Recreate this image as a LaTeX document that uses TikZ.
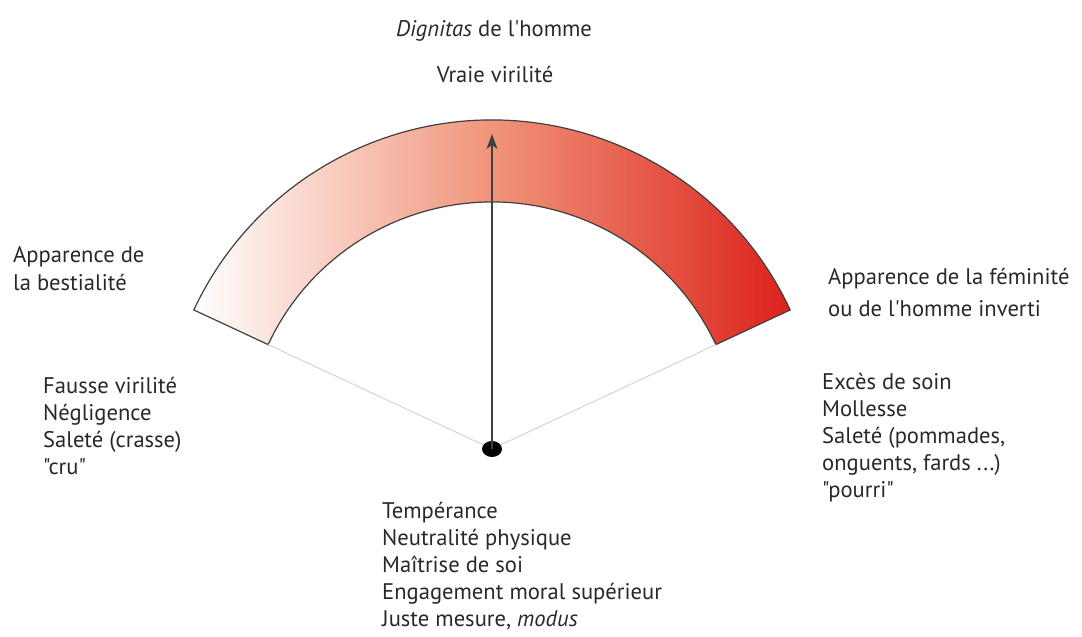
\documentclass[tikz,border=0pt]{standalone}
\usepackage{fontspec}
\setmainfont{PT Sans}[Ligatures=TeXOff]
\usetikzlibrary{arrows.meta,calc,shapes.geometric}
\definecolor{ringred}{RGB}{220,34,28}
\definecolor{ringmid}{RGB}{240,148,122}
\definecolor{txt}{RGB}{40,40,40}
\newcommand{\blk}[1]{\begin{tabular}[t]{@{}l@{}}#1\end{tabular}}
\begin{document}
\begin{tikzpicture}[x=1pt,y=1pt,
  lbl/.style={anchor=base west, inner sep=0pt, font=\fontsize{22.6}{27}\selectfont, text=txt},
  ctr/.style={lbl, anchor=base},
  ringline/.style={line width=1.2pt, draw=black!75},
  spoke/.style={line width=0.8pt, draw=black!20},
  pointer/.style={line width=1.4pt, draw=black!75, -{Stealth[length=15pt,width=11pt,inset=4pt]}},
]
\useasboundingbox (0,0) rectangle (1082,637);
\coordinate (c) at (492,188);
\coordinate (ro) at ($(c)+(25:329)$);
\coordinate (lo) at ($(c)+(155:329)$);
\coordinate (li) at ($(c)+(155:247)$);
\coordinate (ri) at ($(c)+(25:247)$);
\coordinate (tip) at (492,503);

\shade[left color=white, right color=ringred, middle color=ringmid]
  (ro) arc[start angle=25, end angle=155, radius=329] -- (li)
  arc[start angle=155, end angle=25, radius=247] -- cycle;
\draw[ringline]
  (ro) arc[start angle=25, end angle=155, radius=329] -- (li)
  arc[start angle=155, end angle=25, radius=247] -- cycle;

\node[ellipse, fill=black, minimum width=20pt, minimum height=16pt, inner sep=0pt] (dot) at (c) {};
\draw[spoke] (dot) -- (li);
\draw[spoke] (dot) -- (ri);
\draw[pointer] (dot.center) -- (tip);

\node[ctr] (t1) at (494,600) {\textit{Dignitas} de l'homme};
\node[ctr] (t2) at (495,554) {Vraie virilité};
\node[lbl] (bl) at (13,374) {\blk{Apparence de\\[1pt]la bestialité}};
\node[lbl] (fe) at (828,352) {\blk{Apparence de la féminité\\[5pt]ou de l'homme inverti}};
\node[lbl] (fv) at (43,243) {\blk{Fausse virilité\\Négligence\\Saleté (crasse)\\"cru"}};
\node[lbl] (es) at (822,247) {\blk{Excès de soin\\Mollesse\\Saleté (pommades,\\onguents, fards ...)\\"pourri"}};
\node[lbl] (te) at (382,118) {\blk{Tempérance\\Neutralité physique\\Maîtrise de soi\\Engagement moral supérieur\\Juste mesure, \textit{modus}}};
\end{tikzpicture}
\end{document}
